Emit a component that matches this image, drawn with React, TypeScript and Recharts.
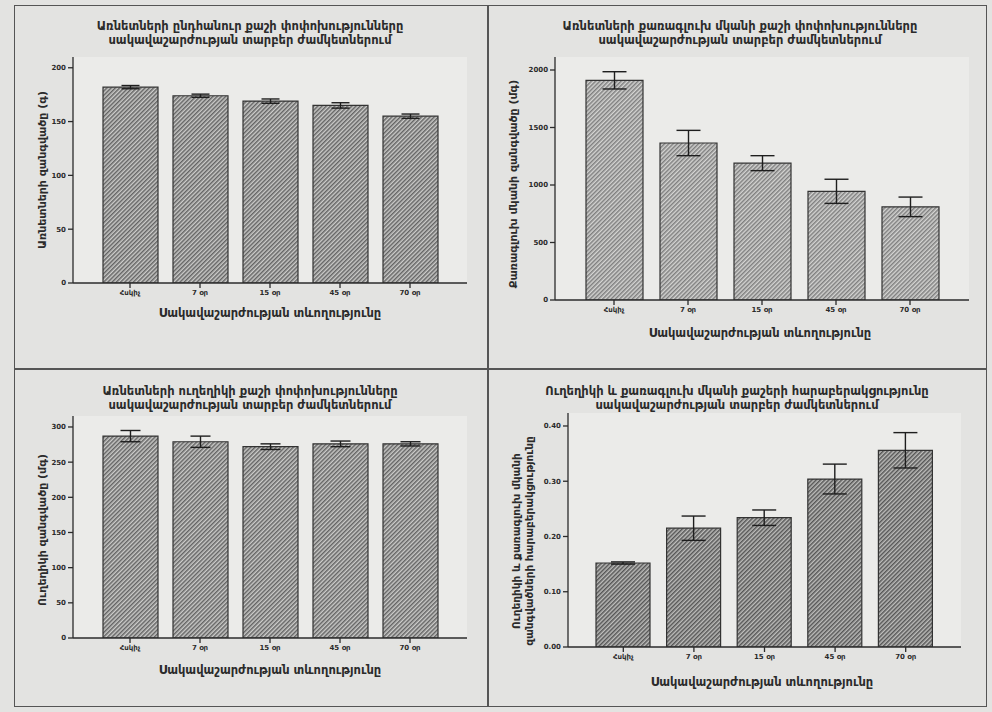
import React from "react";
import { BarChart, Bar, XAxis, YAxis, ErrorBar } from "recharts";

const periods = ["Հսկիչ", "7 օր", "15 օր", "45 օր", "70 օր"];

const bodyWeight = [182, 174, 169, 165, 155];
const bodyWeightErr = [1.5, 1.5, 2, 2.5, 2];

const muscleWeight = [1910, 1365, 1190, 945, 810];
const muscleWeightErr = [75, 110, 65, 105, 85];

const cerebellumWeight = [287, 279, 272, 276, 276];
const cerebellumWeightErr = [8, 8, 4, 4, 3];

const ratio = [0.152, 0.215, 0.234, 0.304, 0.356];
const ratioErr = [0.002, 0.022, 0.014, 0.027, 0.032];

const xTitle = "Սակավաշարժության տևողությունը";
const subTitle = "սակավաշարժության տարբեր ժամկետներում";

const FONT = "'DejaVu Sans', sans-serif";
const INK = "#2b2b2b";

const makeRows = (vals: number[], errs: number[]) =>
  periods.map((p, i) => ({ period: p, value: vals[i], err: errs[i] }));

type PanelProps = {
  id: string;
  plot: { l: number; t: number; r: number; b: number };
  rows: { period: string; value: number; err: number }[];
  domain: [number, number];
  ticks: number[];
  fmt?: (v: number) => string;
  pad: number;
  barSize: number;
  capWidth: number;
  bg: string;
  stripe: string;
};

function Panel({ id, plot, rows, domain, ticks, fmt, pad, barSize, capWidth, bg, stripe }: PanelProps) {
  const yw = 50;
  const xh = 30;
  const w = plot.r - plot.l + yw + 5;
  const h = plot.b - plot.t + 5 + xh;
  return (
    <div style={{ position: "absolute", left: plot.l - yw, top: plot.t - 5 }}>
      <BarChart width={w} height={h} data={rows} margin={{ top: 5, right: 5, left: 0, bottom: 0 }}>
        <defs>
          <pattern id={id} width="3" height="3" patternUnits="userSpaceOnUse" patternTransform="rotate(45)">
            <rect width="3" height="3" fill={bg} />
            <line x1="0.8" y1="0" x2="0.8" y2="3" stroke={stripe} strokeWidth="1.2" />
          </pattern>
        </defs>
        <XAxis
          dataKey="period"
          height={xh}
          padding={{ left: pad, right: pad }}
          tickSize={5}
          axisLine={{ stroke: INK, strokeWidth: 1.3 }}
          tickLine={{ stroke: INK, strokeWidth: 1.3 }}
          tick={{ fill: INK, fontSize: 7, fontFamily: FONT, fontWeight: 700 }}
          interval={0}
        />
        <XAxis xAxisId="top" dataKey="period" orientation="top" height={0} tick={false} tickLine={false}
          axisLine={{ stroke: INK, strokeWidth: 1.3 }} />
        <YAxis
          width={yw}
          domain={domain}
          ticks={ticks}
          tickFormatter={fmt}
          tickSize={5}
          axisLine={{ stroke: INK, strokeWidth: 1.3 }}
          tickLine={{ stroke: INK, strokeWidth: 1.3 }}
          tick={{ fill: INK, fontSize: 7, fontFamily: FONT, fontWeight: 700 }}
          allowDataOverflow
        />
        <YAxis yAxisId="right" orientation="right" width={0} tick={false} tickLine={false}
          axisLine={{ stroke: INK, strokeWidth: 1.3 }} />
        <Bar dataKey="value" barSize={barSize} fill={`url(#${id})`} stroke="#333" strokeWidth={1.2}
          isAnimationActive={false}>
          <ErrorBar dataKey="err" width={capWidth} stroke="#1e1e1e" strokeWidth={1.4} />
        </Bar>
      </BarChart>
    </div>
  );
}

const txt = (x: number, y: number, s: React.ReactNode, size: number, weight = 700, rotate = false) => (
  <div
    style={{
      position: "absolute",
      left: x,
      top: y,
      transform: `translate(-50%, -50%)${rotate ? " rotate(-90deg)" : ""}`,
      fontFamily: FONT,
      fontSize: size,
      fontWeight: weight,
      color: INK,
      whiteSpace: "nowrap",
      textAlign: "center",
      lineHeight: 1.25,
    }}
  >
    {s}
  </div>
);

export default function App() {
  return (
    <div style={{ position: "absolute", left: 0, top: 0, width: 992, height: 712, background: "#e3e3e1", overflow: "hidden" }}>
      {/* panel frames */}
      <div style={{ position: "absolute", left: 14, top: 5, width: 973, height: 702, border: "1.5px solid #555", boxSizing: "border-box" }} />
      <div style={{ position: "absolute", left: 487, top: 5, width: 1.5, height: 702, background: "#555" }} />
      <div style={{ position: "absolute", left: 14, top: 368, width: 973, height: 1.5, background: "#555" }} />

      {/* plot backgrounds */}
      <div style={{ position: "absolute", left: 73, top: 57, width: 394, height: 226, background: "#ebebe9" }} />
      <div style={{ position: "absolute", left: 555, top: 57, width: 414, height: 243, background: "#ebebe9" }} />
      <div style={{ position: "absolute", left: 73, top: 416, width: 394, height: 222, background: "#ebebe9" }} />
      <div style={{ position: "absolute", left: 568, top: 413, width: 393, height: 234, background: "#ebebe9" }} />

      <Panel id="p1" plot={{ l: 73, t: 57, r: 467, b: 283 }} rows={makeRows(bodyWeight, bodyWeightErr)}
        domain={[0, 210]} ticks={[0, 50, 100, 150, 200]} pad={22} barSize={55} capWidth={9}
        bg="#cbcbc9" stripe="#4a4a4a" />
      <Panel id="p2" plot={{ l: 555, t: 57, r: 969, b: 300 }} rows={makeRows(muscleWeight, muscleWeightErr)}
        domain={[0, 2113]} ticks={[0, 500, 1000, 1500, 2000]} pad={22} barSize={57} capWidth={12}
        bg="#d4d4d2" stripe="#6a6a6a" />
      <Panel id="p3" plot={{ l: 73, t: 416, r: 467, b: 638 }} rows={makeRows(cerebellumWeight, cerebellumWeightErr)}
        domain={[0, 315.6]} ticks={[0, 50, 100, 150, 200, 250, 300]} pad={22} barSize={55} capWidth={10}
        bg="#cbcbc9" stripe="#4a4a4a" />
      <Panel id="p4" plot={{ l: 568, t: 413, r: 961, b: 647 }} rows={makeRows(ratio, ratioErr)}
        domain={[0, 0.4235]} ticks={[0, 0.1, 0.2, 0.3, 0.4]} fmt={(v) => v.toFixed(2)} pad={20} barSize={54}
        capWidth={12} bg="#bdbdbb" stripe="#3c3c3c" />

      {/* titles */}
      {txt(250, 33, <>Առնետների ընդհանուր քաշի փոփոխությունները<br />{subTitle}</>, 11.5)}
      {txt(740, 33, <>Առնետների քառագլուխ մկանի քաշի փոփոխությունները<br />{subTitle}</>, 11.5)}
      {txt(250, 398, <>Առնետների ուղեղիկի քաշի փոփոխությունները<br />{subTitle}</>, 11.5)}
      {txt(737, 398, <>Ուղեղիկի և քառագլուխ մկանի քաշերի հարաբերակցությունը<br />{subTitle}</>, 11.5)}

      {/* x axis titles */}
      {txt(270, 313, xTitle, 11.5, 600)}
      {txt(760, 333, xTitle, 11.5, 600)}
      {txt(270, 670, xTitle, 11.5, 600)}
      {txt(762, 682, xTitle, 11.5, 600)}

      {/* y axis titles */}
      {txt(43, 170, "Առնետների զանգվածը (գ)", 11, 600, true)}
      {txt(514, 184, "Քառագլուխ մկանի զանգվածը (մգ)", 11, 600, true)}
      {txt(43, 530, "Ուղեղիկի զանգվածը (մգ)", 11, 600, true)}
      {txt(523, 541, <>Ուղեղիկի և քառագլուխ մկանի<br />զանգվածների հարաբերակցությունը</>, 10.5, 600, true)}
    </div>
  );
}
